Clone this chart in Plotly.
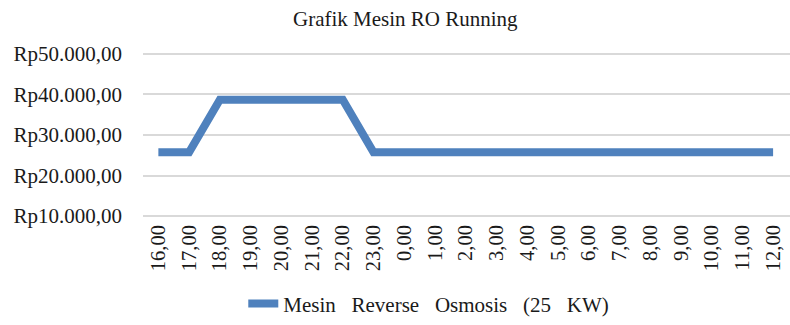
import plotly.graph_objects as go

# Jam operasi (kategori sumbu X)
hours = ["16,00", "17,00", "18,00", "19,00", "20,00", "21,00", "22,00", "23,00",
         "0,00", "1,00", "2,00", "3,00", "4,00", "5,00", "6,00", "7,00",
         "8,00", "9,00", "10,00", "11,00", "12,00"]

# Biaya operasi mesin RO per jam (Rp)
cost_ro = [25750, 25750, 38700, 38700, 38700, 38700, 38700, 25750,
           25750, 25750, 25750, 25750, 25750, 25750, 25750, 25750,
           25750, 25750, 25750, 25750, 25750]

# Label sumbu Y
y_tick_vals = [10000, 20000, 30000, 40000, 50000]
y_tick_text = ["Rp10.000,00", "Rp20.000,00", "Rp30.000,00", "Rp40.000,00", "Rp50.000,00"]

series_name = "Mesin\u00a0\u00a0\u00a0Reverse\u00a0\u00a0\u00a0Osmosis\u00a0\u00a0\u00a0(25\u00a0\u00a0\u00a0KW)"

FONT = "Liberation Serif, Times New Roman, serif"
TEXT = "#1a1a1a"

fig = go.Figure()
fig.add_trace(go.Scatter(
    x=list(range(len(hours))),
    y=cost_ro,
    mode="lines",
    name=series_name,
    line=dict(color="#4F81BD", width=8),
))

fig.update_layout(
    width=790,
    height=325,
    margin=dict(l=143, r=0, t=51, b=101),
    paper_bgcolor="white",
    plot_bgcolor="white",
    font=dict(family=FONT, size=21, color=TEXT),
    title=dict(
        text="Grafik Mesin RO Running",
        x=0.513, xanchor="center",
        y=1 - 19 / 325, yanchor="middle",
        font=dict(family=FONT, size=21, color=TEXT),
    ),
    showlegend=True,
    legend=dict(
        orientation="h",
        x=0.155, xanchor="left",
        y=-0.505, yanchor="middle",
        font=dict(family=FONT, size=21, color=TEXT),
        bgcolor="rgba(0,0,0,0)",
    ),
)

fig.update_xaxes(
    range=[-0.5, 20.55],
    tickmode="array",
    tickvals=list(range(len(hours))),
    ticktext=hours,
    tickangle=-90,
    showgrid=False,
    zeroline=False,
    showline=False,
    ticks="",
    ticklabelstandoff=1,
    tickfont=dict(family=FONT, size=20.5, color=TEXT),
)

fig.update_yaxes(
    range=[9281, 50719],
    tickmode="array",
    tickvals=y_tick_vals,
    ticktext=y_tick_text,
    showgrid=True,
    gridcolor="#d9d9d9",
    gridwidth=1.5,
    zeroline=False,
    showline=False,
    ticks="",
    ticklabelstandoff=20,
    tickfont=dict(family=FONT, size=21, color=TEXT),
)

fig.write_html("out.html")
